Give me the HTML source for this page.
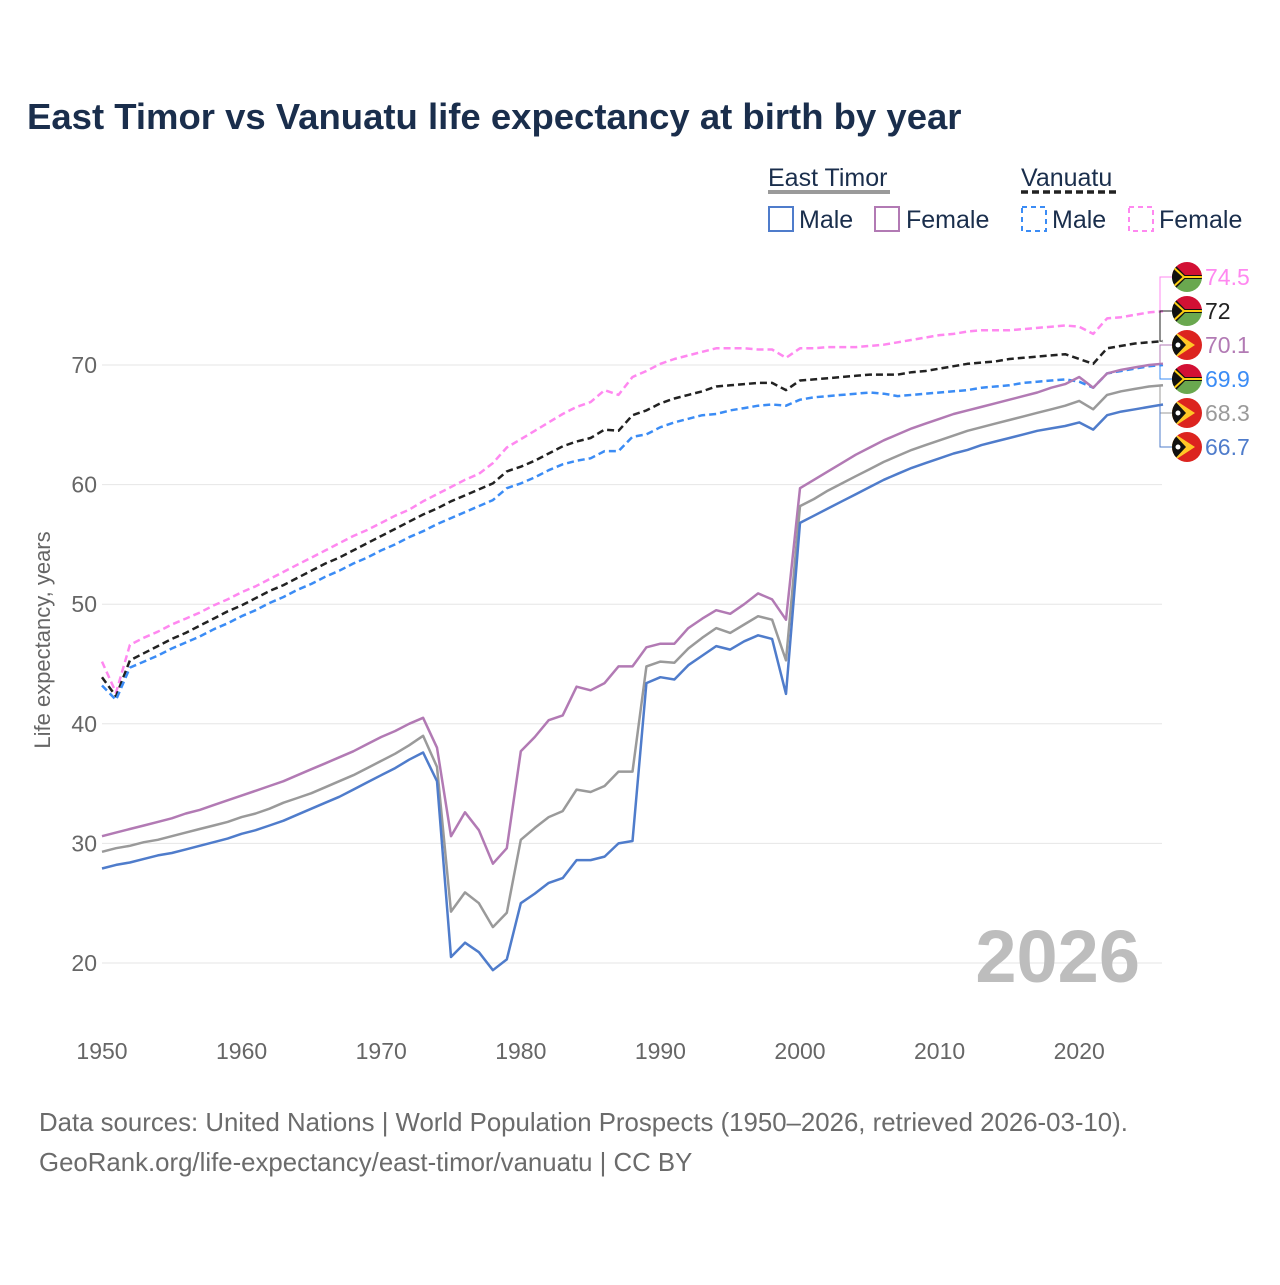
<!DOCTYPE html>
<html><head><meta charset="utf-8">
<style>
html,body{margin:0;padding:0;background:#fff;}
body{width:1280px;height:1280px;overflow:hidden;font-family:"Liberation Sans",sans-serif;}
</style></head>
<body>
<svg id="chart" width="1280" height="1280" xmlns="http://www.w3.org/2000/svg" font-family="Liberation Sans, sans-serif">
  <text x="27" y="129" font-size="36.5" font-weight="bold" fill="#1a2e4c">East Timor vs Vanuatu life expectancy at birth by year</text>
  <g font-size="25" fill="#1a2e4c">
    <text x="768" y="186">East Timor</text>
    <line x1="768" y1="192" x2="890" y2="192" stroke="#9a9a9a" stroke-width="4"/>
    <text x="1021" y="186">Vanuatu</text>
    <line x1="1021" y1="192" x2="1116" y2="192" stroke="#222" stroke-width="3.5" stroke-dasharray="7,4"/>
    <rect x="769" y="207" width="24" height="24" fill="none" stroke="#4f7ccb" stroke-width="2"/>
    <text x="799" y="228">Male</text>
    <rect x="875" y="207" width="24" height="24" fill="none" stroke="#b27ab4" stroke-width="2"/>
    <text x="906" y="228">Female</text>
    <rect x="1022" y="207" width="24" height="24" fill="none" stroke="#3b8cf5" stroke-width="2" stroke-dasharray="5,4"/>
    <text x="1052" y="228">Male</text>
    <rect x="1129" y="207" width="24" height="24" fill="none" stroke="#ff88f0" stroke-width="2" stroke-dasharray="5,4"/>
    <text x="1159" y="228">Female</text>
  </g>
  <g id="grid"></g>
  <text transform="translate(50,640) rotate(-90)" text-anchor="middle" font-size="22" fill="#666">Life expectancy, years</text>
  <text x="1140" y="982" text-anchor="end" font-size="74" font-weight="bold" fill="#bdbdbd">2026</text>
  <g id="lines"></g>
  <g id="endlabels"></g>
  <g font-size="25.8" fill="#6b6b6b">
    <text x="39" y="1131">Data sources: United Nations | World Population Prospects (1950–2026, retrieved 2026-03-10).</text>
    <text x="39" y="1171">GeoRank.org/life-expectancy/east-timor/vanuatu | CC BY</text>
  </g>
</svg>
<script>
const startYear = 1950;
const yTicks = [20, 30, 40, 50, 60, 70];
const xTicks = [1950, 1960, 1970, 1980, 1990, 2000, 2010, 2020];
const etMale = [27.9,28.2,28.4,28.7,29.0,29.2,29.5,29.8,30.1,30.4,30.8,31.1,31.5,31.9,32.4,32.9,33.4,33.9,34.5,35.1,35.7,36.3,37.0,37.6,35.2,20.5,21.7,20.9,19.4,20.3,25.0,25.8,26.7,27.1,28.6,28.6,28.9,30.0,30.2,43.4,43.9,43.7,44.9,45.7,46.5,46.2,46.9,47.4,47.1,42.5,56.8,57.4,58.0,58.6,59.2,59.8,60.4,60.9,61.4,61.8,62.2,62.6,62.9,63.3,63.6,63.9,64.2,64.5,64.7,64.9,65.2,64.6,65.8,66.1,66.3,66.5,66.7];
const etFemale = [30.6,30.9,31.2,31.5,31.8,32.1,32.5,32.8,33.2,33.6,34.0,34.4,34.8,35.2,35.7,36.2,36.7,37.2,37.7,38.3,38.9,39.4,40.0,40.5,38.0,30.6,32.6,31.1,28.3,29.6,37.7,38.9,40.3,40.7,43.1,42.8,43.4,44.8,44.8,46.4,46.7,46.7,48.0,48.8,49.5,49.2,50.0,50.9,50.4,48.7,59.7,60.4,61.1,61.8,62.5,63.1,63.7,64.2,64.7,65.1,65.5,65.9,66.2,66.5,66.8,67.1,67.4,67.7,68.1,68.4,69.0,68.1,69.3,69.6,69.8,70.0,70.1];
const etTotal = [29.3,29.6,29.8,30.1,30.3,30.6,30.9,31.2,31.5,31.8,32.2,32.5,32.9,33.4,33.8,34.2,34.7,35.2,35.7,36.3,36.9,37.5,38.2,39.0,36.4,24.3,25.9,25.0,23.0,24.2,30.3,31.3,32.2,32.7,34.5,34.3,34.8,36.0,36.0,44.8,45.2,45.1,46.3,47.2,48.0,47.6,48.3,49.0,48.7,45.3,58.2,58.8,59.5,60.1,60.7,61.3,61.9,62.4,62.9,63.3,63.7,64.1,64.5,64.8,65.1,65.4,65.7,66.0,66.3,66.6,67.0,66.3,67.5,67.8,68.0,68.2,68.3];
const vuMale = [43.2,42.0,44.7,45.2,45.7,46.3,46.8,47.3,47.9,48.4,49.0,49.5,50.1,50.6,51.2,51.7,52.3,52.8,53.4,53.9,54.5,55.0,55.6,56.1,56.7,57.2,57.7,58.2,58.7,59.7,60.1,60.6,61.2,61.7,62.0,62.2,62.8,62.8,64.0,64.2,64.8,65.2,65.5,65.8,65.9,66.2,66.4,66.6,66.7,66.6,67.1,67.3,67.4,67.5,67.6,67.7,67.6,67.4,67.5,67.6,67.7,67.8,67.9,68.1,68.2,68.3,68.5,68.6,68.7,68.8,68.6,68.1,69.3,69.5,69.7,69.9,70.0];
const vuTotal = [43.9,42.3,45.3,45.9,46.5,47.1,47.6,48.2,48.8,49.4,49.9,50.5,51.1,51.6,52.2,52.8,53.4,53.9,54.5,55.1,55.7,56.3,56.9,57.5,58.0,58.6,59.1,59.6,60.1,61.1,61.5,62.0,62.6,63.2,63.6,63.9,64.6,64.5,65.8,66.2,66.8,67.2,67.5,67.8,68.2,68.3,68.4,68.5,68.5,67.9,68.7,68.8,68.9,69.0,69.1,69.2,69.2,69.2,69.4,69.5,69.7,69.9,70.1,70.2,70.3,70.5,70.6,70.7,70.8,70.9,70.5,70.1,71.4,71.6,71.8,71.9,72.0];
const vuFemale = [45.2,42.6,46.6,47.2,47.7,48.3,48.8,49.3,49.9,50.4,51.0,51.5,52.1,52.7,53.3,53.9,54.5,55.1,55.7,56.2,56.8,57.4,57.9,58.6,59.2,59.8,60.4,60.9,61.8,63.1,63.8,64.5,65.2,65.9,66.5,66.9,67.9,67.5,69.0,69.5,70.1,70.5,70.8,71.1,71.4,71.4,71.4,71.3,71.3,70.6,71.4,71.4,71.5,71.5,71.5,71.6,71.7,71.9,72.1,72.3,72.5,72.6,72.8,72.9,72.9,72.9,73.0,73.1,73.2,73.3,73.2,72.6,73.9,74.0,74.2,74.4,74.5];
const endValues = ["74.5","72","70.1","69.9","68.3","66.7"];

const NS = "http://www.w3.org/2000/svg";
const X0 = 102, XSTEP = 13.96, Y20 = 963, YSTEP = 11.96;
function xs(year){ return X0 + (year - startYear) * XSTEP; }
function ys(v){ return Y20 - (v - 20) * YSTEP; }
function mk(tag, attrs, parent){ const e = document.createElementNS(NS, tag); for (const k in attrs) e.setAttribute(k, attrs[k]); parent.appendChild(e); return e; }

const grid = document.getElementById('grid');
yTicks.forEach(t => {
  const l = mk('line', {x1: 102, x2: 1162, y1: ys(t), y2: ys(t), stroke: '#e6e6e6', 'stroke-width': 1}, grid);
  
  
  const tx = mk('text', {x: 97, y: ys(t) + 8, 'text-anchor': 'end', 'font-size': 23, fill: '#666'}, grid);
  tx.textContent = t;
  
  
});
xTicks.forEach(t => {
  const tx = mk('text', {x: xs(t), y: 1059, 'text-anchor': 'middle', 'font-size': 23, fill: '#666'}, grid);
  tx.textContent = t;
  
  
});

const lines = document.getElementById('lines');
const series = [
  {d: vuFemale, c: '#ff88f0', dash: '7,4', n: 'vanuatu-female-line'},
  {d: vuTotal, c: '#222222', dash: '7,4', n: 'vanuatu-total-line'},
  {d: vuMale, c: '#3b8cf5', dash: '7,4', n: 'vanuatu-male-line'},
  {d: etFemale, c: '#b27ab4', dash: null, n: 'east-timor-female-line'},
  {d: etTotal, c: '#9a9a9a', dash: null, n: 'east-timor-total-line'},
  {d: etMale, c: '#4f7ccb', dash: null, n: 'east-timor-male-line'}
];
series.forEach(s => {
  const pts = s.d.map((v, i) => xs(startYear + i).toFixed(1) + ',' + ys(v).toFixed(1)).join(' ');
  const attrs = {points: pts, fill: 'none', stroke: s.c, 'stroke-width': 2.5, 'stroke-linejoin': 'round'};
  if (s.dash) attrs['stroke-dasharray'] = s.dash;
  const p = mk('polyline', attrs, lines);
  
  
});

const el = document.getElementById('endlabels');
const flags = ['vu','vu','et','vu','et','et'];
const endSeries = [vuFemale, vuTotal, etFemale, vuMale, etTotal, etMale];
const endColors = ['#ff88f0','#222222','#b27ab4','#3b8cf5','#9a9a9a','#4f7ccb'];
endSeries.forEach((arr, i) => {
  const fy = 277 + i * 34, fx = 1187;
  const ly = ys(arr[arr.length - 1]);
  const c = mk('polyline', {points: `1162,${ly} 1160,${ly} 1160,${fy} 1172,${fy}`, fill: 'none', stroke: endColors[i], 'stroke-width': 1}, el);
  
  
  const g = mk('g', {}, el);
  
  
  const cid = 'clip' + i;
  const cp = mk('clipPath', {id: cid}, g);
  mk('circle', {cx: fx, cy: fy, r: 15}, cp);
  const f = mk('g', {'clip-path': `url(#${cid})`}, g);
  if (flags[i] === 'vu') {
    mk('rect', {x: fx-15, y: fy-15, width: 30, height: 15, fill: '#d21034'}, f);
    mk('rect', {x: fx-15, y: fy, width: 30, height: 15, fill: '#6aa84f'}, f);
    mk('rect', {x: fx-15, y: fy-2, width: 30, height: 4, fill: '#111'}, f);
    mk('polygon', {points: `${fx-15},${fy-15} ${fx},${fy} ${fx-15},${fy+15}`, fill: '#111'}, f);
    mk('polyline', {points: `${fx-15},${fy-11} ${fx-3},${fy} ${fx+15},${fy}`, fill: 'none', stroke: '#fdce12', 'stroke-width': 2}, f);
    mk('polyline', {points: `${fx-15},${fy+11} ${fx-3},${fy}`, fill: 'none', stroke: '#fdce12', 'stroke-width': 2}, f);
  } else {
    mk('rect', {x: fx-15, y: fy-15, width: 30, height: 30, fill: '#dc241f'}, f);
    mk('polygon', {points: `${fx-15},${fy-15} ${fx+8},${fy} ${fx-15},${fy+15}`, fill: '#ffc726'}, f);
    mk('polygon', {points: `${fx-15},${fy-15} ${fx-1},${fy} ${fx-15},${fy+15}`, fill: '#111'}, f);
    mk('circle', {cx: fx-9, cy: fy, r: 2.5, fill: '#fff'}, f);
  }
  const t = mk('text', {x: 1205, y: fy + 8, 'font-size': 23, fill: endColors[i]}, el);
  t.textContent = endValues[i];
  
  
});
</script>
</body></html>
